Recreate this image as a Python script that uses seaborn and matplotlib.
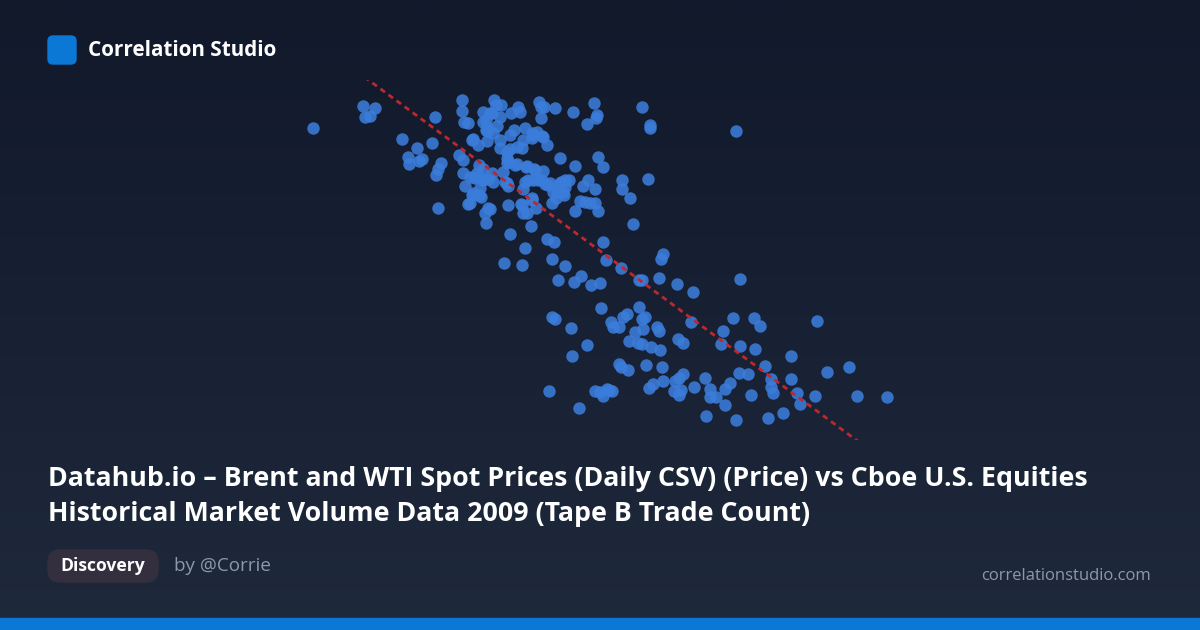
import numpy as np
import pandas as pd
import matplotlib.pyplot as plt
import seaborn as sns
from matplotlib.patches import FancyBboxPatch, Rectangle

# Brent spot price (USD/bbl) vs Cboe Tape B trade count (thousands)
brent_price = [
    31.3, 36.3, 37.5, 36.5, 37.0, 40.2, 41.7, 40.8, 40.9, 42.2, 41.9, 43.2, 43.5, 44.1, 43.8, 43.6, 43.8,
    46.2, 46.2, 46.4, 46.8, 47.2, 47.8, 45.9, 46.3, 46.3, 46.5,
    47.2, 46.8, 48.1, 47.4, 48.2, 47.9, 48.0, 48.3, 48.6, 48.6,
    48.7, 48.5, 48.6, 48.8, 47.7, 49.2, 47.5, 48.3, 47.9, 49.0,
    49.3, 47.0, 48.3, 48.8, 47.3, 47.0, 47.3, 49.0, 50.0, 48.3,
    49.7, 48.7, 48.7, 49.3, 50.0, 50.0, 49.4, 49.6, 50.1, 49.2,
    51.1, 51.8, 52.0, 53.9, 54.1, 54.4, 55.5, 54.1, 51.0, 51.4,
    52.5, 53.3, 53.7, 53.2, 52.3, 54.2, 54.7, 52.2, 51.7, 51.0,
    50.7, 50.7, 50.8, 51.7, 52.7, 53.4, 54.3, 50.3, 50.5, 50.8,
    52.5, 52.3, 53.3, 54.2, 54.5, 55.0, 56.1, 56.5, 56.9, 56.5,
    56.4, 55.3, 55.6, 55.2, 53.2, 52.2, 52.3, 53.6, 50.8, 53.1,
    51.5, 52.6, 50.7, 50.7, 53.2, 54.3, 53.5, 52.8, 53.8, 54.8,
    56.0, 55.7, 56.3, 58.0, 58.5, 59.0, 59.5, 58.3, 58.8, 59.5,
    59.8, 57.5, 52.7, 53.2, 51.0, 52.1,
    57.3, 59.4, 59.7, 59.6, 58.7, 64.2, 65.0, 65.0, 73.6,
    56.0, 57.5, 59.8, 60.3, 62.2, 62.2, 63.0, 64.8, 63.3,
    52.5, 54.7, 55.4, 50.4, 52.2, 55.2, 56.5, 55.8, 57.4, 58.1,
    59.1, 60.0, 60.3, 60.6, 62.1, 63.9, 60.1, 55.2, 55.5, 57.1,
    58.7, 57.2, 61.1, 61.3, 61.9, 62.3, 62.7, 63.5, 62.9, 63.8,
    61.9, 62.1, 62.8, 54.9, 57.9, 59.5, 60.0, 60.3, 60.7, 61.2, 60.9,
    66.3, 66.1, 64.2, 65.9, 67.7, 69.3, 74.0, 63.9, 64.5, 64.2,
    64.3, 65.7, 65.9, 64.2, 65.1, 66.0, 67.8, 68.3, 69.1, 73.3,
    75.4, 76.0, 72.3, 72.1, 74.0, 75.5, 81.7, 79.1, 76.5, 73.9,
    74.8, 77.1, 77.1, 77.3, 79.1, 79.7, 80.0, 81.5, 82.7, 84.9,
    85.7, 88.7, 75.1, 78.3, 76.8, 73.6, 70.6, 72.5, 71.6, 71.0,
    71.0, 72.5, 73.0, 70.5, 69.4, 64.6, 66.2, 68.3, 67.9, 67.5,
    66.3, 65.3, 64.9, 67.4, 68.1, 67.9,
]
tape_b_trades = [
    372, 394, 392, 383, 384, 361, 352, 343, 336, 341, 339, 357, 383, 337, 331, 325, 292,
    400, 389, 378, 377, 360, 355, 345, 340, 327, 314,
    305, 296, 303, 323, 321, 335, 312, 388, 380, 370,
    359, 287, 277, 292, 327, 327, 322, 320, 305, 291,
    318, 323, 331, 321, 307, 297, 361, 387, 383, 378,
    374, 373, 369, 367, 360, 352, 400, 395, 395, 387,
    387, 393, 388, 398, 393, 393, 392, 382, 365, 370,
    372, 365, 368, 362, 360, 364, 355, 352, 353, 351,
    348, 342, 339, 336, 334, 331, 329, 328, 318, 314,
    318, 311, 320, 320, 316, 317, 318, 320, 320, 313,
    305, 308, 302, 297, 302, 295, 287, 292, 295, 274,
    335, 333, 337, 317, 367, 363, 330, 320, 320, 315,
    317, 308, 308, 299, 298, 297, 297, 314, 320, 311,
    289, 289, 287, 300, 266, 296,
    388, 397, 385, 382, 376, 393, 375, 372, 369,
    342, 334, 343, 333, 320, 311, 302, 321, 276,
    252, 261, 258, 237, 235, 241, 234, 220, 218, 224,
    215, 217, 258, 240, 232, 220, 192, 183, 181, 172,
    155, 144, 178, 173, 173, 183, 186, 168, 159, 157,
    136, 133, 130, 109, 92, 109, 108, 104, 111, 109, 110,
    246, 241, 220, 222, 216, 208, 221, 193, 183, 181,
    171, 173, 169, 156, 153, 150, 161, 157, 178, 182,
    182, 174, 169, 156, 154, 151, 179, 144, 134, 127,
    126, 121, 113, 107, 121, 107, 96, 104, 128, 133,
    104, 103, 105, 87, 82, 80, 84, 95, 103, 103,
    111, 111, 117, 122, 113, 135, 133, 126, 122, 119,
    119, 116, 112, 109, 110, 105,
]

title_lines = [
    "Datahub.io \u2013 Brent and WTI Spot Prices (Daily CSV) (Price) vs Cboe U.S. Equities",
    "Historical Market Volume Data 2009 (Tape B Trade Count)",
]

df = pd.DataFrame({"price": brent_price, "trades": tape_b_trades})

sns.set_theme(style="white")
plt.rcParams["font.family"] = ["Open Sans", "DejaVu Sans"]

fig = plt.figure(figsize=(12, 6.3), dpi=100)

# background in pixel coordinates
bg = fig.add_axes([0, 0, 1, 1], zorder=0)
bg.set_xlim(0, 1200)
bg.set_ylim(630, 0)
bg.axis("off")
top = np.array([0x11, 0x19, 0x2b]) / 255
bottom = np.array([0x1e, 0x29, 0x3b]) / 255
t = np.linspace(0, 1, 256)[:, None, None]
grad = top * (1 - t) + bottom * t
bg.imshow(grad, extent=[0, 1200, 630, 0], aspect="auto", zorder=0)

bg.add_patch(Rectangle((0, 618), 1200, 12, color="#0a78d4", zorder=1))
bg.add_patch(FancyBboxPatch((48, 36), 28, 28, boxstyle="round,pad=0,rounding_size=5",
                            color="#0a78d4", zorder=1))
bg.text(88, 50, "Correlation Studio", color="white", fontsize=14.9, fontweight="bold",
        va="center", ha="left")

bg.text(48, 479, title_lines[0], color="white", fontsize=19.3, fontweight="bold",
        va="center", ha="left")
bg.text(48, 514, title_lines[1], color="white", fontsize=19.3, fontweight="bold",
        va="center", ha="left")

bg.add_patch(FancyBboxPatch((48, 550), 110, 32, boxstyle="round,pad=0,rounding_size=12",
                            color="#332f3f", zorder=1))
bg.text(103, 566, "Discovery", color="white", fontsize=12.6, fontweight="bold",
        va="center", ha="center")
bg.text(174, 566, "by @Corrie", color="#8e98aa", fontsize=13.6, va="center", ha="left")
bg.text(1151, 576, "correlationstudio.com", color="#8e98aa", fontsize=12,
        va="center", ha="right")

# scatter panel
ax = fig.add_axes([0.25, 190 / 630, 0.5, 360 / 630], zorder=2)
ax.patch.set_alpha(0)
ax.set_xlim(30, 90)
ax.set_ylim(60, 420)
sns.scatterplot(data=df, x="price", y="trades", ax=ax, s=80, color="#3b7ddb",
                alpha=0.88, linewidth=0, legend=False)
sns.regplot(data=df, x="price", y="trades", ax=ax, scatter=False, ci=None, truncate=False,
            line_kws=dict(color="#c0272d", lw=2, linestyle=(0, (2, 1.6))))
ax.set_xlim(30, 90)
ax.set_ylim(60, 420)
ax.axis("off")

plt.savefig("out.png", dpi=100)
